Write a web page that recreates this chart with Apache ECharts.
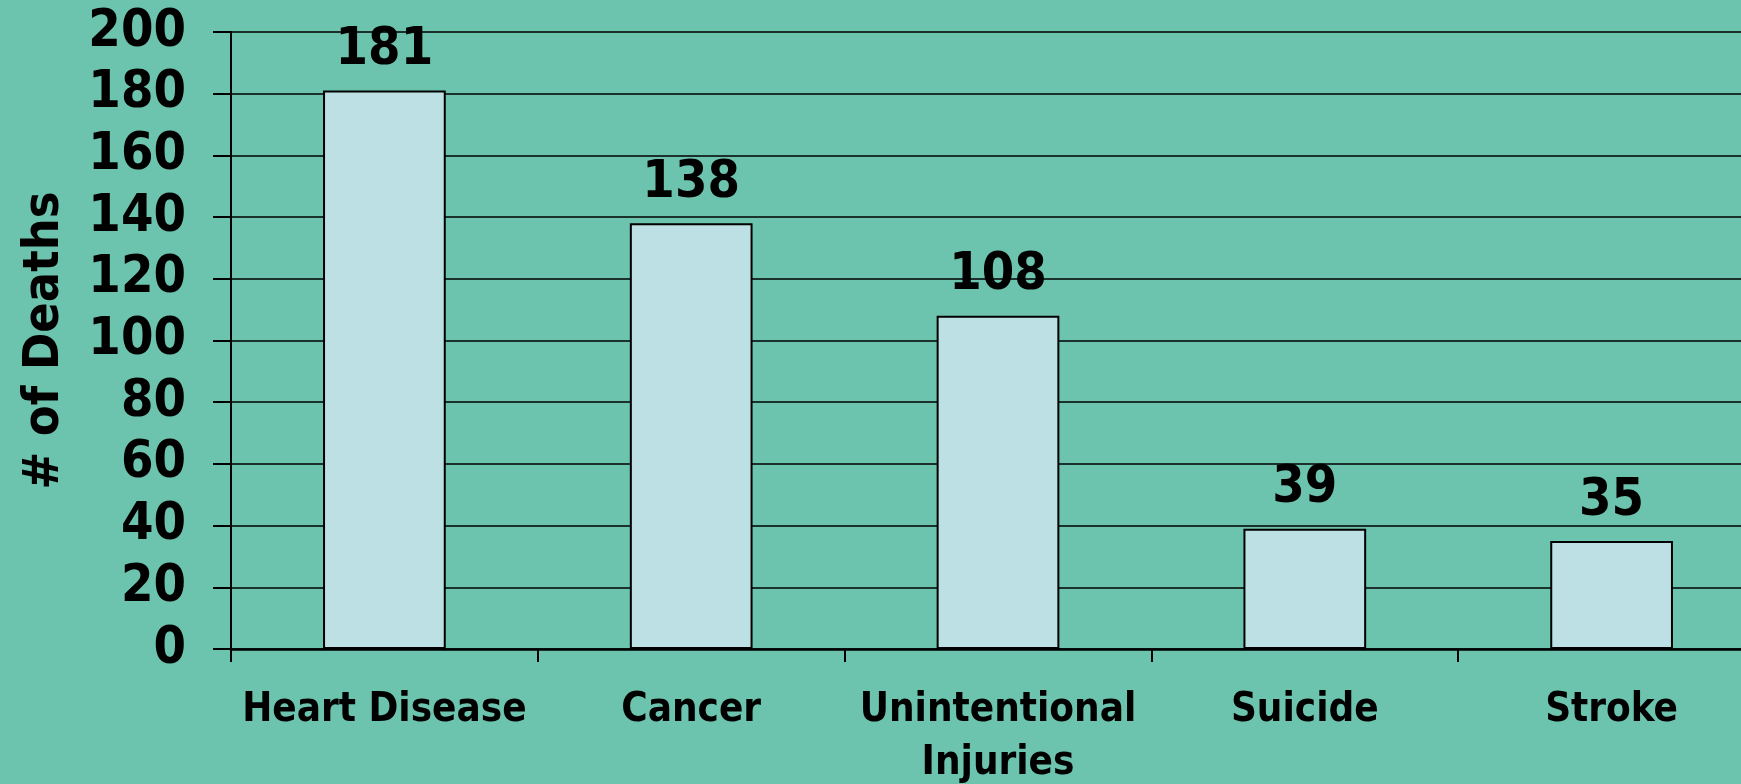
<!DOCTYPE html>
<html>
<head>
<meta charset="utf-8">
<script src="https://cdn.jsdelivr.net/npm/echarts@6/dist/echarts.min.js"></script>
<style>
  html, body { margin: 0; padding: 0; background: #6cc3ae; }
  #main { width: 1741px; height: 784px; }
</style>
</head>
<body>
<div id="main"></div>
<script>
// 数据
var categories = ['Heart Disease', 'Cancer', 'Unintentional\nInjuries', 'Suicide', 'Stroke'];
var deaths = [181, 138, 108, 39, 35];
var yTicks = [0, 20, 40, 60, 80, 100, 120, 140, 160, 180, 200];

var font = "'DejaVu Sans Condensed', 'DejaVu Sans', sans-serif";

var chart = echarts.init(document.getElementById('main'));

var option = {
  backgroundColor: '#6cc3ae',
  animation: false,
  grid: {
    left: 231,
    right: -24,
    top: 32,
    bottom: 135,
    containLabel: false,
    outerBoundsMode: 'none'
  },
  xAxis: {
    type: 'category',
    data: categories,
    boundaryGap: true,
    axisLine: { lineStyle: { color: '#000', width: 2.5 } },
    axisTick: { show: true, length: 13, interval: 0, lineStyle: { color: '#000', width: 2 } },
    axisLabel: {
      interval: 0,
      margin: 35,
      color: '#000',
      fontFamily: font,
      fontWeight: 'bold',
      fontSize: 40,
      lineHeight: 53
    }
  },
  yAxis: {
    type: 'value',
    min: yTicks[0],
    max: yTicks[yTicks.length - 1],
    interval: 20,
    name: '# of Deaths',
    nameLocation: 'middle',
    nameGap: 161,
    nameMoveOverlap: false,
    nameTextStyle: {
      color: '#000',
      fontFamily: font,
      fontWeight: 'bold',
      fontSize: 50
    },
    axisLine: { show: true, lineStyle: { color: '#000', width: 2 } },
    axisTick: { show: true, length: 18, lineStyle: { color: '#000', width: 2 } },
    splitLine: { lineStyle: { color: '#000', width: 1.5 } },
    axisLabel: {
      margin: 45,
      color: '#000',
      fontFamily: font,
      fontWeight: 'bold',
      fontSize: 52
    }
  },
  series: [{
    type: 'bar',
    data: deaths,
    barWidth: '40%',
    itemStyle: {
      color: '#bce0e3',
      borderColor: '#000',
      borderWidth: 2
    },
    label: {
      show: true,
      position: 'top',
      distance: 14,
      color: '#000',
      fontFamily: font,
      fontWeight: 'bold',
      fontSize: 52
    }
  }]
};

chart.setOption(option);
</script>
</body>
</html>
